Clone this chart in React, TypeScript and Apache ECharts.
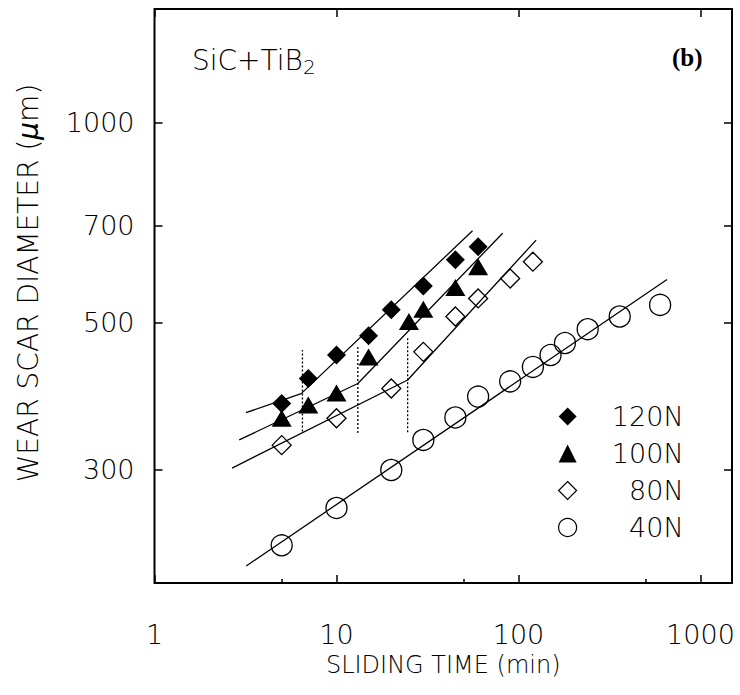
import React, { useEffect, useRef } from 'react';
import * as echarts from 'echarts';

// Axis ticks
const xMajorTicks = [1, 10, 100, 1000];
const xMinorTicks = [5, 50, 500];
const yTicks = [300, 500, 700, 1000];

// Measured data: sliding time (min) vs wear scar diameter (um)
const time120 = [5, 7, 10, 15, 20, 30, 45, 60];
const dia120 = [378, 412, 447, 478, 523, 568, 622, 651];
const time100 = [5, 7, 10, 15, 25, 30, 45, 60];
const dia100 = [359, 376, 392, 444, 502, 524, 565, 607];
const time80 = [5, 10, 20, 30, 45, 60, 90, 120];
const dia80 = [327, 359, 398, 452, 511, 544, 583, 618];
const time40 = [5, 10, 20, 30, 45, 60, 90, 120, 150, 180, 240, 360, 600];
const dia40 = [231, 263, 300, 333, 360, 387, 408, 429, 447, 466, 489, 511, 532];

// Fitted (piecewise) lines
const fitTime120 = [3.18, 6.4, 55.9];
const fitDia120 = [366, 391, 688];
const fitTime100 = [2.92, 13.1, 81.8];
const fitDia100 = [333, 405, 682];
const fitTime80 = [2.67, 24.6, 125];
const fitDia80 = [302, 410, 666];
const fitTime40 = [3.19, 655];
const fitDia40 = [215, 581];

// Dotted transition markers
const transTime = [6.5, 13.1, 24.6];
const transLow = [343, 341, 342];
const transHigh = [455, 463, 474];

const SANS = "'DejaVu Sans', sans-serif";
const W = 300;
const zip = (xs: number[], ys: number[]) => xs.map((x, i) => [x, ys[i]]);

export default function App() {
  const ref = useRef<HTMLDivElement>(null);
  useEffect(() => {
    const chart = echarts.init(ref.current!, null, { renderer: 'svg' });
    const tickStyle = { color: '#000', width: 1.5 };
    const xBase = {
      type: 'log' as const,
      logBase: 10,
      min: 1,
      max: 1490,
      splitLine: { show: false },
      axisLine: { show: false },
    };
    const yBase = {
      type: 'log' as const,
      logBase: 10,
      min: 202.7,
      max: 1485,
      splitLine: { show: false },
      axisLine: { show: false },
    };
    const plain = (v: number) => String(v);
    const fitLine = (name: string, xs: number[], ys: number[]) => ({
      name,
      type: 'line',
      data: zip(xs, ys),
      symbol: 'none',
      silent: true,
      z: 1,
      lineStyle: { color: '#000', width: 1.3 },
    });
    const option: any = {
      animation: false,
      backgroundColor: '#fff',
      title: [
        {
          text: '{a|SiC+TiB}{s|2}',
          left: 192,
          top: 44,
          padding: 0,
          textStyle: {
            fontWeight: W,
            rich: {
              a: { fontSize: 28, lineHeight: 33, fontFamily: SANS, fontWeight: W, color: '#000' },
              s: { fontSize: 20, lineHeight: 20, verticalAlign: 'bottom', fontFamily: SANS, fontWeight: W, color: '#000' },
            },
          },
        },
        {
          text: '(b)',
          left: 672,
          top: 45,
          padding: 0,
          textStyle: { fontFamily: "'Liberation Serif', serif", fontWeight: 'bold', fontSize: 25, color: '#000' },
        },
      ],
      legend: {
        data: ['120N', '100N', '80N', '40N'],
        orient: 'vertical',
        left: 558,
        top: 403,
        padding: 0,
        itemWidth: 18,
        itemHeight: 18,
        itemGap: 10,
        selectedMode: false,
        itemStyle: { borderWidth: 1.2 },
        formatter: (n: string) => `{t|${n}}`,
        textStyle: {
          rich: {
            t: { width: 102, align: 'right', fontSize: 27, lineHeight: 28, fontFamily: SANS, fontWeight: W, color: '#000' },
          },
        },
      },
      grid: {
        left: 154.5,
        right: 8,
        top: 9,
        bottom: 112,
        show: true,
        borderColor: '#000',
        borderWidth: 2,
        backgroundColor: 'transparent',
      },
      xAxis: [
        {
          ...xBase,
          position: 'bottom',
          axisTick: { show: true, inside: true, length: 8, customValues: xMajorTicks, lineStyle: tickStyle },
          axisLabel: { customValues: xMajorTicks, formatter: plain, margin: 38, fontSize: 27, fontFamily: SANS, fontWeight: W, color: '#000' },
          name: 'SLIDING TIME (min)',
          nameLocation: 'middle',
          nameGap: 69,
          nameTextStyle: { fontSize: 24, fontFamily: SANS, fontWeight: W, color: '#000' },
        },
        {
          ...xBase,
          position: 'bottom',
          axisTick: { show: true, inside: true, length: 4, customValues: xMinorTicks, lineStyle: tickStyle },
          axisLabel: { show: false },
        },
        {
          ...xBase,
          position: 'top',
          axisTick: { show: true, inside: true, length: 8, customValues: xMajorTicks, lineStyle: tickStyle },
          axisLabel: { show: false },
        },
      ],
      yAxis: [
        {
          ...yBase,
          position: 'left',
          axisTick: { show: true, inside: true, length: 8, customValues: yTicks, lineStyle: tickStyle },
          axisLabel: { customValues: yTicks, formatter: plain, margin: 20, fontSize: 27, fontFamily: SANS, fontWeight: W, color: '#000' },
          name: 'WEAR SCAR DIAMETER ({i|μ}m)',
          nameLocation: 'middle',
          nameGap: 112,
          nameRotate: 90,
          nameTextStyle: {
            fontSize: 28,
            fontFamily: SANS,
            fontWeight: W,
            color: '#000',
            padding: [0, 0, 0, 26],
            rich: { i: { fontSize: 28, fontFamily: SANS, fontWeight: W, fontStyle: 'italic', color: '#000' } },
          },
        },
        {
          ...yBase,
          position: 'right',
          axisTick: { show: true, inside: true, length: 8, customValues: yTicks, lineStyle: tickStyle },
          axisLabel: { show: false },
        },
      ],
      series: [
        fitLine('fit120', fitTime120, fitDia120),
        fitLine('fit100', fitTime100, fitDia100),
        fitLine('fit80', fitTime80, fitDia80),
        fitLine('fit40', fitTime40, fitDia40),
        ...transTime.map((t, i) => ({
          name: 'trans' + i,
          type: 'line',
          data: [[t, transLow[i]], [t, transHigh[i]]],
          symbol: 'none',
          silent: true,
          z: 1,
          lineStyle: { color: '#000', width: 1.3, type: [2, 2] },
        })),
        {
          name: '120N',
          type: 'scatter',
          symbol: 'diamond',
          symbolSize: 19,
          z: 3,
          itemStyle: { color: '#000', opacity: 1 },
          data: zip(time120, dia120),
        },
        {
          name: '100N',
          type: 'scatter',
          symbol: 'triangle',
          symbolSize: [20, 17],
          z: 3,
          itemStyle: { color: '#000', opacity: 1 },
          data: zip(time100, dia100),
        },
        {
          name: '80N',
          type: 'scatter',
          symbol: 'diamond',
          symbolSize: 19,
          z: 3,
          itemStyle: { color: 'rgba(255,255,255,0)', borderColor: '#000', borderWidth: 1.3, opacity: 1 },
          data: zip(time80, dia80),
        },
        {
          name: '40N',
          type: 'scatter',
          symbol: 'circle',
          symbolSize: 21,
          z: 3,
          itemStyle: { color: 'rgba(255,255,255,0)', borderColor: '#000', borderWidth: 1.3, opacity: 1 },
          data: zip(time40, dia40),
        },
      ],
    };
    chart.setOption(option);
    return () => chart.dispose();
  }, []);
  return (
    <div
      ref={ref}
      style={{ position: 'absolute', left: 0, top: 0, width: 740, height: 695, background: '#fff' }}
    />
  );
}
